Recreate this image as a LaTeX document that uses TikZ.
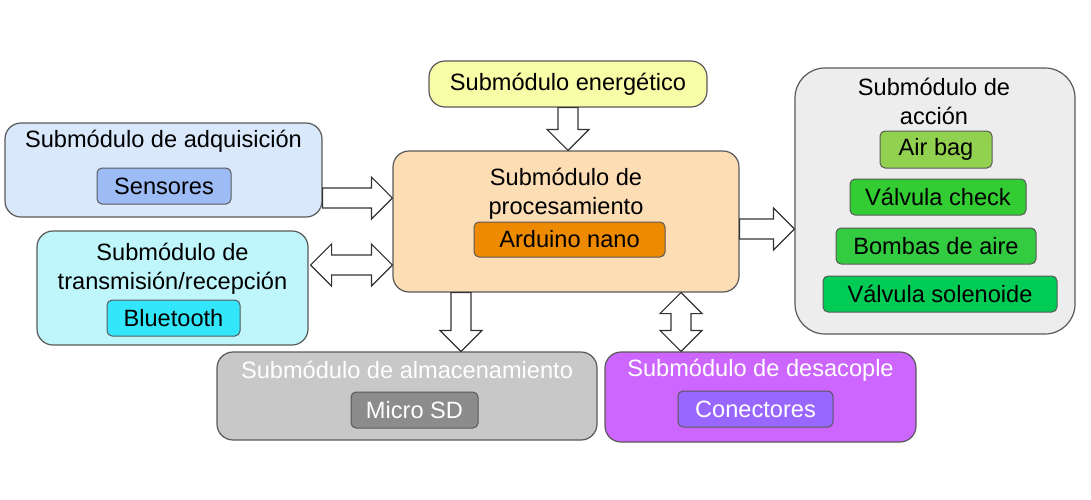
\documentclass[tikz,border=0pt]{standalone}
\usepackage{fontspec}
\setmainfont{Liberation Sans}
\usepackage{xcolor}
\usepackage{tikz}
\usetikzlibrary{calc}

\definecolor{energia}{HTML}{F7FCA6}
\definecolor{adquis}{HTML}{DAE8FC}
\definecolor{sensor}{HTML}{9DBBF5}
\definecolor{transm}{HTML}{BFF6FC}
\definecolor{blue}{HTML}{33E6FB}
\definecolor{proces}{HTML}{FDDDB3}
\definecolor{arduino}{HTML}{EE8A00}
\definecolor{accion}{HTML}{EDEDED}
\definecolor{airbag}{HTML}{92D050}
\definecolor{check}{HTML}{33CC33}
\definecolor{bomba}{HTML}{33CC40}
\definecolor{solen}{HTML}{00CC55}
\definecolor{almac}{HTML}{C8C8C8}
\definecolor{microsd}{HTML}{8C8C8C}
\definecolor{desac}{HTML}{CC66FF}
\definecolor{conect}{HTML}{9966FF}

\tikzset{
 modulo/.style={draw=black!65, rounded corners=8pt, line width=0.6pt, inner sep=0pt},
 parte/.style={draw=black!65, rounded corners=2.5pt, line width=0.5pt, inner sep=0pt},
 titulo/.style={align=center, inner sep=0pt},
 blk/.style={draw=black!80, fill=white, line width=0.6pt}
}

\newcommand{\blkR}[2]{\draw[blk] let \p1=(#1), \p2=(#2) in (\x1,\y1+5pt) -- (\x2-10.5pt,\y1+5pt) -- (\x2-10.5pt,\y1+10.5pt) -- (\x2,\y1) -- (\x2-10.5pt,\y1-10.5pt) -- (\x2-10.5pt,\y1-5pt) -- (\x1,\y1-5pt) -- cycle;}
\newcommand{\blkD}[2]{\draw[blk] let \p1=(#1), \p2=(#2) in (\x1-5pt,\y1) -- (\x1-5pt,\y2+10.5pt) -- (\x1-10.5pt,\y2+10.5pt) -- (\x1,\y2) -- (\x1+10.5pt,\y2+10.5pt) -- (\x1+5pt,\y2+10.5pt) -- (\x1+5pt,\y1) -- cycle;}
\newcommand{\blkLR}[2]{\draw[blk] let \p1=(#1), \p2=(#2) in (\x1,\y1) -- (\x1+10.5pt,\y1+10.5pt) -- (\x1+10.5pt,\y1+5pt) -- (\x2-10.5pt,\y1+5pt) -- (\x2-10.5pt,\y1+10.5pt) -- (\x2,\y1) -- (\x2-10.5pt,\y1-10.5pt) -- (\x2-10.5pt,\y1-5pt) -- (\x1+10.5pt,\y1-5pt) -- (\x1+10.5pt,\y1-10.5pt) -- cycle;}
\newcommand{\blkUD}[2]{\draw[blk] let \p1=(#1), \p2=(#2) in (\x1,\y1) -- (\x1+10.5pt,\y1-10.5pt) -- (\x1+5pt,\y1-10.5pt) -- (\x1+5pt,\y2+10.5pt) -- (\x1+10.5pt,\y2+10.5pt) -- (\x1,\y2) -- (\x1-10.5pt,\y2+10.5pt) -- (\x1-5pt,\y2+10.5pt) -- (\x1-5pt,\y1-10.5pt) -- (\x1-10.5pt,\y1-10.5pt) -- cycle;}

\begin{document}
\begin{tikzpicture}[x=0.5pt,y=-0.5pt,font=\fontsize{11.8}{14.5}\selectfont]
\useasboundingbox (0,0) rectangle (1091,499);

\node[modulo, fill=energia, minimum width=139pt, minimum height=23pt] (ener) at (568,84) {Submódulo energético};

\node[modulo, fill=adquis, minimum width=158.5pt, minimum height=47pt] (adq) at (163.5,170) {};
\node[titulo] (adqT) at (163.5,141) {Submódulo de adquisición};
\node[parte, fill=sensor, minimum width=67pt, minimum height=18pt] (sens) at (164,186) {Sensores};

\node[modulo, fill=transm, minimum width=135.5pt, minimum height=57pt] (trans) at (172.5,288) {};
\node[titulo] (transT) at (172.5,268.5) {Submódulo de\\transmisión/recepción};
\node[parte, fill=blue, minimum width=66.5pt, minimum height=18pt] (blue) at (173.5,318) {Bluetooth};

\node[modulo, fill=proces, minimum width=173pt, minimum height=70.5pt] (proc) at (566,221.5) {};
\node[titulo] (procT) at (566,194) {Submódulo de\\procesamiento};
\node[parte, fill=arduino, minimum width=95.5pt, minimum height=17.5pt] (ard) at (569.5,239.5) {Arduino nano};

\node[modulo, fill=accion, rounded corners=15pt, minimum width=140pt, minimum height=133pt] (acc) at (935,201) {};
\node[titulo] (accT) at (934,101) {Submódulo de\\acción};
\node[parte, fill=airbag, minimum width=56pt, minimum height=18.5pt] (air) at (936,149.5) {Air bag};
\node[parte, fill=check, minimum width=88pt, minimum height=18pt] (chk) at (938,197) {Válvula check};
\node[parte, fill=bomba, minimum width=100pt, minimum height=18pt] (bom) at (936,246) {Bombas de aire};
\node[parte, fill=solen, minimum width=117pt, minimum height=18pt] (sol) at (940,294) {Válvula solenoide};

\node[modulo, fill=almac, minimum width=190pt, minimum height=44pt] (alm) at (407,396) {};
\node[titulo, text=white] (almT) at (407,370) {Submódulo de almacenamiento};
\node[parte, fill=microsd, text=white, minimum width=63.5pt, minimum height=18pt] (sd) at (414.5,410) {Micro SD};

\node[modulo, fill=desac, minimum width=155.5pt, minimum height=45pt] (des) at (760.5,397) {};
\node[titulo, text=white] (desT) at (760.5,370) {Submódulo de desacople};
\node[parte, fill=conect, text=white, minimum width=77.5pt, minimum height=18pt] (con) at (755.5,409) {Conectores};

\blkD{ener.south}{ener.south |- proc.north}
\coordinate (a1) at ([yshift=-14pt]adq.east);
\blkR{a1}{a1 -| proc.west}
\coordinate (t1) at ([xshift=1pt,yshift=11.5pt]trans.east);
\blkLR{t1}{t1 -| proc.west}
\coordinate (p1) at ([xshift=-52.5pt]proc.south);
\blkD{p1}{p1 |- alm.north}
\coordinate (p2) at ([xshift=57.5pt]proc.south);
\blkUD{p2}{p2 |- des.north}
\coordinate (p3) at ([yshift=-3.75pt]proc.east);
\blkR{p3}{p3 -| acc.west}
\end{tikzpicture}
\end{document}
